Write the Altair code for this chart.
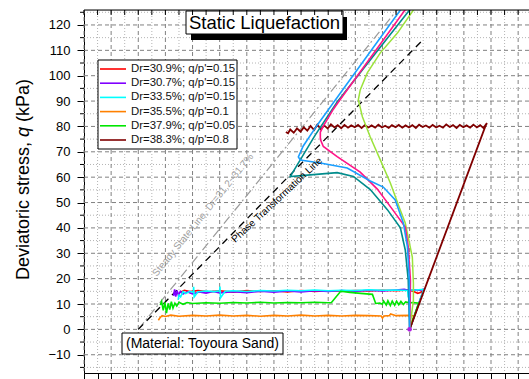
import altair as alt
import pandas as pd

W, H = 445, 363
X_DOMAIN = [-20, 144]
Y_DOMAIN = [-17.2, 125.9]
FONT = "Liberation Sans"

# tick values
y_major = [-10, 0, 10, 20, 30, 40, 50, 60, 70, 80, 90, 100, 110, 120]
y_minor = [-15, -5, 5, 15, 25, 35, 45, 55, 65, 75, 85, 95, 105, 115, 125]
x_major = [-20, -10, 0, 10, 20, 30, 40, 50, 60, 70, 80, 90, 100, 110, 120, 130, 140]
x_minor = [-15, -5, 5, 15, 25, 35, 45, 55, 65, 75, 85, 95, 105, 115, 125, 135]

# legend
legend_labels = ["Dr=30.9%; q/p'=0.15", "Dr=30.7%; q/p'=0.15", "Dr=33.5%; q/p'=0.15",
                 "Dr=35.5%; q/p'=0.1", "Dr=37.9%; q/p'=0.05", "Dr=38.3%; q/p'=0.8"]
legend_colors = ["#ff0000", "#8000ff", "#00ffff", "#ff8000", "#00e600", "#800000"]

# consolidation / pre-shear paths (p', q)
red_p = [15.5, 17, 19, 22, 26, 30, 35, 40, 45, 50, 55, 60, 65, 70, 75, 80, 85, 90, 95, 100, 101.5, 103.0, 104.2, 105.2, 100.0]
red_q = [14.6, 15.4, 14.9, 15.3, 14.8, 15.2, 14.7, 15.3, 14.9, 15.2, 14.8, 15.3, 14.9, 15.2, 15.0, 15.3, 15.1, 15.4, 15.2, 15.5, 14.9, 14.2, 14.6, 15.6, 0.0]

purple_p = [13.0, 13.4, 13.8, 14.3, 14.8, 15.5, 16.5, 18, 20, 22.5, 25, 27.5, 30, 35, 40, 45, 50, 55, 60, 65, 70, 75, 80, 85, 90, 95, 98, 100, 102, 104, 105.3, 100.0]
purple_q = [13.2, 15.8, 12.9, 15.3, 13.4, 15.0, 13.9, 14.8, 14.0, 14.7, 14.3, 14.9, 14.4, 14.8, 14.5, 15.0, 14.7, 15.1, 14.8, 15.2, 14.9, 15.3, 15.0, 15.4, 15.1, 15.5, 15.8, 15.3, 15.6, 15.4, 15.9, 0.0]

cyan_p = [14.7, 15.0, 15.6, 16.5, 17.5, 19.0, 20.3, 20.4, 20.6, 22, 25, 28, 30.0, 30.1, 30.3, 32, 35, 40, 45, 50, 55, 60, 65, 70, 75, 80, 85, 90, 95, 99.3, 99.5, 99.7, 102, 105.2, 100.0]
cyan_q = [11.6, 13.5, 12.8, 14.9, 14.1, 15.0, 14.6, 16.8, 12.8, 14.8, 15.1, 14.9, 15.2, 16.9, 12.4, 15.0, 15.2, 14.9, 15.3, 15.1, 15.4, 15.2, 15.5, 15.2, 15.4, 15.3, 15.6, 15.4, 15.5, 15.3, 12.6, 15.6, 15.5, 15.8, 0.0]

orange_p = [7.4, 8.0, 8.8, 10, 12, 15, 20, 25, 30, 35, 40, 45, 50, 55, 60, 65, 70, 75, 80, 85, 89.5, 90.0, 90.5, 92.5, 93.0, 95, 100, 101.6, 100.0]
orange_q = [3.6, 4.6, 5.4, 5.1, 5.6, 5.2, 5.5, 5.3, 5.6, 5.3, 5.5, 5.2, 5.5, 5.3, 5.6, 5.3, 5.5, 5.3, 5.5, 5.4, 5.3, 4.4, 5.3, 5.4, 6.1, 5.4, 5.5, 5.3, 0.0]

green_p = [8.1, 8.6, 9.2, 9.8, 10.4, 11.0, 11.6, 12.2, 12.8, 13.5, 14.2, 15.0, 16.5, 18, 20, 25, 30, 35, 40, 45, 50, 55, 60, 65, 70, 71.2, 74.6, 78, 82, 86.3, 87.5, 89, 90, 90.4, 91.4, 92, 92.9, 93.6, 94.5, 95.2, 96.0, 96.8, 97.7, 98.5, 100, 101.5, 103.3, 100.0]
green_q = [9.6, 11.0, 7.5, 10.6, 6.4, 10.2, 7.8, 10.9, 8.4, 10.3, 9.2, 10.7, 9.9, 10.6, 10.2, 10.5, 10.3, 10.6, 10.4, 10.7, 10.4, 10.6, 10.5, 10.7, 10.5, 10.6, 15.0, 14.6, 14.2, 13.8, 10.2, 10.4, 9.9, 11.2, 9.6, 11.3, 9.4, 11.2, 9.5, 11.1, 9.7, 11.0, 9.8, 10.8, 10.5, 10.6, 10.3, 0.0]

brown_p = [100.0, 127.9, 128.5, 127.2, 126.0, 124.8, 123.5, 122.3, 121.0, 119.8, 118.5, 117.3, 116.0, 114.8,
           113.5, 112.3, 111.0, 109.8, 108.5, 107.3, 106.0, 104.8, 103.5, 102.3, 101.0, 99.8, 98.5, 97.3, 96.0,
           94.8, 93.5, 92.3, 91.0, 89.8, 88.5, 87.3, 86.0, 84.8, 83.5, 82.3, 81.0, 79.8, 78.5, 77.3, 76.0, 74.8,
           73.5, 72.3, 71.0, 69.8, 68.5, 67.3, 66.0, 64.8, 63.5, 62.3, 61.0, 59.8, 58.5, 57.3, 56.0, 55.2, 54.4]
brown_q = [0.0, 80.0, 81.3, 79.4, 80.5, 79.6, 80.7, 79.5, 80.4, 79.7, 80.6, 79.4, 80.5, 79.8, 80.8, 79.5, 80.3,
           79.6, 80.6, 79.5, 80.4, 79.8, 80.7, 79.4, 80.5, 79.6, 80.4, 79.5, 80.6, 79.7, 80.5, 79.4, 80.3, 79.6,
           80.7, 79.5, 80.4, 79.6, 80.5, 79.4, 80.6, 79.7, 80.4, 79.5, 80.6, 79.3, 80.5, 79.6, 80.8, 79.2, 80.4,
           78.9, 80.7, 78.6, 80.2, 78.3, 79.6, 77.9, 79.2, 77.5, 78.8, 77.3, 77.8]

# undrained shearing paths
pink_p = [100.0, 100.2, 100.3, 99.5, 98.4, 93.6, 88.1, 81.8, 73.3, 68.2, 67.1, 67.1, 68.2, 71.9, 73.7, 98.5, 102.4]
pink_q = [0.0, 10.0, 19.4, 32.5, 40.3, 47.4, 55.3, 62.0, 68.1, 72.1, 74.9, 77.7, 80.1, 86.8, 89.5, 126.2, 132.0]

blue_p = [100.0, 99.9, 99.9, 99.2, 97.7, 94.7, 90.3, 85.5, 77.0, 67.1, 59.7, 59.0, 60.8, 66.0, 71.9, 96.6, 100.7]
blue_q = [0.0, 11.6, 19.4, 32.5, 41.9, 51.0, 56.1, 58.5, 63.6, 65.6, 66.8, 68.0, 72.3, 80.6, 89.3, 125.9, 132.0]

teal_p = [100.0, 99.5, 98.4, 96.6, 91.8, 85.5, 79.3, 73.3, 64.5, 56.0, 59.7, 65.2, 73.3, 100.2, 104.5]
teal_q = [0.0, 19.4, 31.3, 40.0, 47.2, 55.1, 60.3, 61.8, 61.0, 60.2, 66.8, 76.6, 89.6, 126.2, 132.0]

lime_p = [100.0, 101.4, 101.4, 101.0, 98.4, 96.6, 92.9, 89.2, 85.5, 82.6, 81.1, 81.8, 84.4, 89.2, 95.5, 101.4, 105.4]
lime_q = [0.0, 11.5, 18.2, 28.5, 41.9, 47.0, 57.7, 66.8, 75.8, 83.8, 90.5, 94.4, 101.1, 109.0, 116.8, 125.9, 132.0]

# reference lines
ssl_p = [0.0, 100.0]
ssl_q = [0.0, 132.0]
ptl_p = [0.0, 104.5]
ptl_q = [0.0, 113.7]

xs = alt.Scale(domain=X_DOMAIN, nice=False, zero=False)
ys = alt.Scale(domain=Y_DOMAIN, nice=False, zero=False)
x_axis = alt.Axis(values=sorted(x_major + x_minor), labels=False, title=None, grid=False,
                  tickSize=6, tickColor="black", domainColor="black", domainWidth=1)
y_axis = alt.Axis(values=y_major, title=None, grid=False, tickSize=7, tickColor="black",
                  domainColor="black", domainWidth=1, labelFontSize=13, labelFont=FONT,
                  labelColor="black", labelPadding=7)


def X(f="p"):
    return alt.X(f"{f}:Q", scale=xs, axis=x_axis)


def Y(f="q"):
    return alt.Y(f"{f}:Q", scale=ys, axis=y_axis)


dummy = pd.DataFrame({"a": [0]})
layers = []

# grid
layers.append(alt.Chart(pd.DataFrame({"v": x_minor})).mark_rule(color="#b4b4b4", strokeDash=[1, 2], strokeWidth=1).encode(x=alt.X("v:Q", scale=xs, axis=x_axis)))
layers.append(alt.Chart(pd.DataFrame({"v": y_minor})).mark_rule(color="#b4b4b4", strokeDash=[1, 2], strokeWidth=1).encode(y=alt.Y("v:Q", scale=ys, axis=y_axis)))
layers.append(alt.Chart(pd.DataFrame({"v": x_major})).mark_rule(color="#808080", strokeDash=[4, 3], strokeWidth=1).encode(x=alt.X("v:Q", scale=xs, axis=x_axis)))
layers.append(alt.Chart(pd.DataFrame({"v": y_major})).mark_rule(color="#808080", strokeDash=[4, 3], strokeWidth=1).encode(y=alt.Y("v:Q", scale=ys, axis=y_axis)))


def path(p, q, color, width, dash=None):
    df = pd.DataFrame({"p": p, "q": q, "i": list(range(len(p)))})
    kw = dict(color=color, strokeWidth=width, clip=True)
    if dash:
        kw["strokeDash"] = dash
    return alt.Chart(df).mark_line(**kw).encode(x=X(), y=Y(), order="i:Q")


layers.append(path(ssl_p, ssl_q, "#9a9a9a", 1.2, [9, 3, 2, 3]))
layers.append(path(ptl_p, ptl_q, "black", 1.3, [7, 5]))

layers.append(path(red_p, red_q, legend_colors[0], 1.6))
layers.append(path(purple_p, purple_q, legend_colors[1], 1.6))
layers.append(path(cyan_p, cyan_q, legend_colors[2], 1.6))
layers.append(path(orange_p, orange_q, legend_colors[3], 1.6))
layers.append(path(green_p, green_q, legend_colors[4], 1.6))
layers.append(path(brown_p, brown_q, legend_colors[5], 1.8))
layers.append(path(lime_p, lime_q, "#9be33a", 1.5))
layers.append(path(teal_p, teal_q, "#008c8c", 1.6))
layers.append(path(pink_p, pink_q, "#ff1487", 1.6))
layers.append(path(blue_p, blue_q, "#1a9fff", 1.6))

layers.append(alt.Chart(pd.DataFrame({"p": [purple_p[-1]], "q": [purple_q[-1]]})).mark_point(
    filled=True, size=22, color="#b020e0", opacity=1).encode(x=X(), y=Y()))

# line labels
layers.append(alt.Chart(dummy).mark_text(text="Steady State Line, Dr=31.2~31.7%", angle=309, font=FONT,
                                         fontSize=10, color="#a0a0a0", align="center", baseline="middle").encode(
    x=alt.value(119), y=alt.value(205)))
layers.append(alt.Chart(dummy).mark_text(text="Phase Transformation Line", angle=317, font=FONT,
                                         fontSize=10, color="black", align="center", baseline="middle").encode(
    x=alt.value(193), y=alt.value(190)))

# legend box
layers.append(alt.Chart(dummy).mark_rect(fill="white", stroke="black", strokeWidth=1).encode(
    x=alt.value(14), x2=alt.value(153), y=alt.value(50), y2=alt.value(139)))
leg_df = pd.DataFrame({"label": legend_labels, "color": legend_colors, "row": list(range(6))})
for i in range(len(legend_labels)):
    yy = 59 + i * 14.2
    sub = alt.Chart(leg_df).transform_filter(alt.datum.row == i)
    layers.append(sub.mark_rule(color=legend_colors[i], strokeWidth=1.6).encode(
        x=alt.value(16), x2=alt.value(42), y=alt.value(yy)))
    layers.append(sub.mark_text(font=FONT, fontSize=11.4, color="#111", align="left", baseline="middle").encode(
        x=alt.value(47), y=alt.value(yy), text="label:N"))

# title box with shadow
layers.append(alt.Chart(dummy).mark_rect(fill="black").encode(
    x=alt.value(107), x2=alt.value(263), y=alt.value(7), y2=alt.value(30)))
layers.append(alt.Chart(dummy).mark_rect(fill="white", stroke="black", strokeWidth=1).encode(
    x=alt.value(102), x2=alt.value(259), y=alt.value(1), y2=alt.value(24)))
layers.append(alt.Chart(dummy).mark_text(text="Static Liquefaction", font=FONT, fontSize=18.5, color="black",
                                         align="center", baseline="middle").encode(x=alt.value(180.5), y=alt.value(13)))

# material box
layers.append(alt.Chart(dummy).mark_rect(fill="white", stroke="black", strokeWidth=1).encode(
    x=alt.value(38), x2=alt.value(199), y=alt.value(323), y2=alt.value(344)))
layers.append(alt.Chart(dummy).mark_text(text="(Material: Toyoura Sand)", font=FONT, fontSize=14, color="black",
                                         align="center", baseline="middle").encode(x=alt.value(118.5), y=alt.value(334)))

# frame top and ticks
layers.append(alt.Chart(dummy).mark_rule(color="black", strokeWidth=1).encode(
    x=alt.value(0), x2=alt.value(W), y=alt.value(0)))
layers.append(alt.Chart(pd.DataFrame({"v": sorted(x_major + x_minor)})).mark_rule(color="black", strokeWidth=1).encode(
    x=alt.X("v:Q", scale=xs, axis=x_axis), y=alt.value(0), y2=alt.value(5)))
layers.append(alt.Chart(pd.DataFrame({"v": y_minor})).mark_rule(color="black", strokeWidth=1, clip=False).encode(
    y=alt.Y("v:Q", scale=ys, axis=y_axis), x=alt.value(-4), x2=alt.value(0)))

# y-axis title (q in italic)
layers.append(alt.Chart(dummy).mark_text(text="Deviatoric stress,", angle=270, font=FONT, fontSize=18,
                                         color="black", align="left", baseline="middle").encode(x=alt.value(-60), y=alt.value(270)))
layers.append(alt.Chart(dummy).mark_text(text="q", angle=270, font=FONT, fontSize=18, fontStyle="italic",
                                         color="black", align="left", baseline="middle").encode(x=alt.value(-60), y=alt.value(127)))
layers.append(alt.Chart(dummy).mark_text(text="(kPa)", angle=270, font=FONT, fontSize=18,
                                         color="black", align="left", baseline="middle").encode(x=alt.value(-60), y=alt.value(112)))

chart = alt.layer(*layers).properties(
    width=W, height=H,
    autosize=alt.AutoSizeParams(type="none"),
    padding={"left": 84, "top": 10, "right": 0, "bottom": 6},
).configure_view(stroke=None).configure(background="white")

chart.save("out.html", embed_options={"renderer": "svg", "actions": False})
